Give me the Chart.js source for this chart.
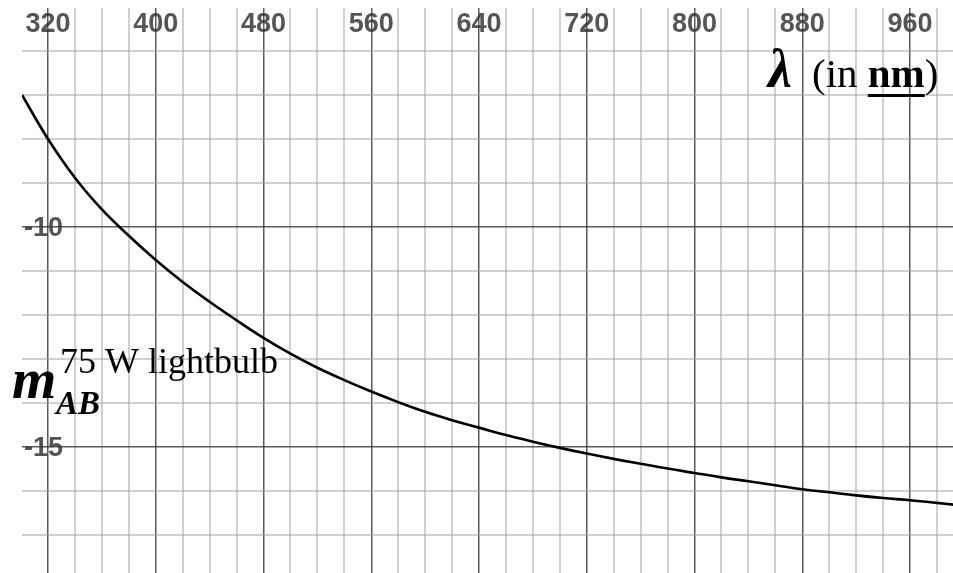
<!DOCTYPE html>
<html>
<head>
<meta charset="utf-8">
<script src="https://cdn.jsdelivr.net/npm/chart.js@4.4.1/dist/chart.umd.min.js"></script>
<style>
  html, body { margin: 0; padding: 0; background: #fff; }
  #wrap { position: relative; width: 953px; height: 573px; }
</style>
</head>
<body>
<div id="wrap"><canvas id="magChart"></canvas></div>
<script>
// wavelength (nm) and AB magnitude
const wavelengths = [300.7, 320, 340, 360, 380, 400, 420, 440, 460, 480, 500, 520, 540, 560, 580, 600,
  620, 640, 660, 680, 700, 720, 740, 760, 780, 800, 820, 840, 860, 880, 900, 920, 940, 960, 980, 992];
const magnitudes = [-7.0, -8.0, -8.88, -9.6, -10.2, -10.75, -11.25, -11.7, -12.12, -12.52, -12.88, -13.2,
  -13.48, -13.74, -13.98, -14.2, -14.39, -14.56, -14.73, -14.88, -15.02, -15.15, -15.27, -15.38, -15.49,
  -15.59, -15.69, -15.78, -15.87, -15.96, -16.03, -16.1, -16.16, -16.21, -16.27, -16.31];

const xTickLabels = [320, 400, 480, 560, 640, 720, 800, 880, 960];
const yTickLabels = [-10, -15];

const majorGrid = 'rgba(50,50,50,0.8)';
const minorGrid = 'rgba(150,150,150,0.45)';

// tick labels sit inside the plot, under the grid lines
const tickLabelPlugin = {
  id: 'tickLabels',
  beforeDraw(chart) {
    const ctx = chart.ctx;
    const xs = chart.scales.x, ys = chart.scales.y;
    ctx.save();
    ctx.fillStyle = '#555';
    ctx.font = 'bold 27px "Liberation Sans", Arial, sans-serif';
    ctx.textAlign = 'center';
    ctx.textBaseline = 'alphabetic';
    xTickLabels.forEach(v => {
      ctx.fillText(String(v), xs.getPixelForValue(v), 32);
    });
    ctx.textAlign = 'left';
    ctx.textBaseline = 'middle';
    yTickLabels.forEach(v => {
      ctx.fillText(String(v), chart.chartArea.left + 2, ys.getPixelForValue(v) + 2);
    });
    ctx.restore();
  },
  afterDraw(chart) {
    const ctx = chart.ctx;
    ctx.save();
    ctx.fillStyle = '#000';
    ctx.textBaseline = 'alphabetic';
    ctx.textAlign = 'left';

    // lambda (in nm)
    ctx.font = 'bold italic 54px "Liberation Serif", "Times New Roman", serif';
    ctx.fillText('λ', 768, 87);
    let x = 812;
    ctx.font = '41px "Liberation Serif", "Times New Roman", serif';
    ctx.fillText('(in ', x, 87);
    x += ctx.measureText('(in ').width;
    ctx.font = 'bold 41px "Liberation Serif", "Times New Roman", serif';
    ctx.fillText('nm', x, 87);
    const w = ctx.measureText('nm').width;
    ctx.fillRect(x, 94, w, 3);
    x += w;
    ctx.font = '41px "Liberation Serif", "Times New Roman", serif';
    ctx.fillText(')', x, 87);

    // m_AB label
    ctx.font = 'bold italic 57px "Liberation Serif", "Times New Roman", serif';
    ctx.fillText('m', 12, 398);
    ctx.font = 'bold italic 33px "Liberation Serif", "Times New Roman", serif';
    ctx.fillText('AB', 56, 414);
    ctx.font = '36px "Liberation Serif", "Times New Roman", serif';
    ctx.fillText('75 W lightbulb', 60, 373);
    ctx.restore();
  }
};

const ctx = document.getElementById('magChart').getContext('2d');
new Chart(ctx, {
  type: 'line',
  data: {
    datasets: [{
      data: wavelengths.map((w, i) => ({ x: w, y: magnitudes[i] })),
      borderColor: '#000',
      borderWidth: 2.6,
      pointRadius: 0,
      fill: false,
      tension: 0.4
    }]
  },
  options: {
    responsive: true,
    maintainAspectRatio: false,
    animation: false,
    layout: { padding: { left: 22, top: 8, right: 0, bottom: 0 } },
    plugins: { legend: { display: false }, tooltip: { enabled: false } },
    scales: {
      x: {
        type: 'linear',
        position: 'top',
        min: 300.7,
        max: 991.9,
        afterBuildTicks: scale => {
          const t = [];
          for (let v = 320; v <= 980; v += 20) t.push({ value: v });
          scale.ticks = t;
        },
        ticks: { display: false },
        border: { display: false },
        grid: {
          drawTicks: false,
          color: c => (c.tick && c.tick.value % 80 === 0) ? majorGrid : minorGrid,
          lineWidth: c => (c.tick && c.tick.value % 80 === 0) ? 1.5 : 2
        }
      },
      y: {
        min: -17.864,
        max: -5.023,
        afterBuildTicks: scale => {
          const t = [];
          for (let v = -17; v <= -6; v++) t.push({ value: v });
          scale.ticks = t;
        },
        ticks: { display: false },
        border: { display: false },
        grid: {
          drawTicks: false,
          color: c => (c.tick && c.tick.value % 5 === 0) ? majorGrid : minorGrid,
          lineWidth: c => (c.tick && c.tick.value % 5 === 0) ? 1.5 : 2
        }
      }
    }
  },
  plugins: [tickLabelPlugin]
});
</script>
</body>
</html>
